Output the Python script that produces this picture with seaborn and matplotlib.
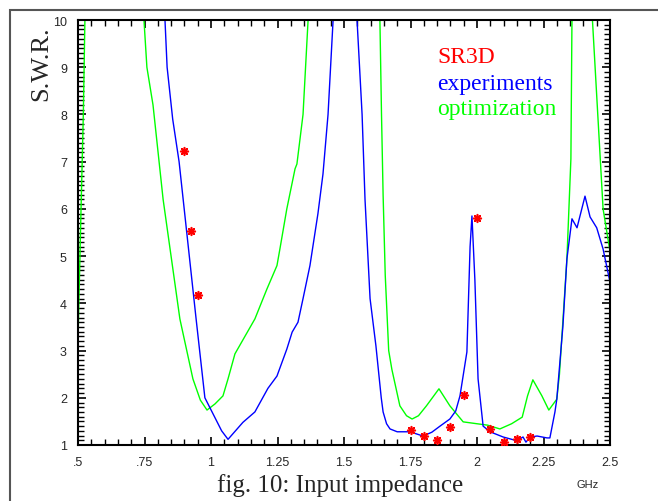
import pandas as pd
import seaborn as sns
import matplotlib.pyplot as plt
from matplotlib.ticker import MultipleLocator, FixedLocator

# 측정 / 최적화 / SR3D 데이터 (GHz, S.W.R.)
exp_f = [0.81, 0.827, 0.835, 0.856, 0.88, 0.944, 0.977, 1.004, 1.04, 1.064, 1.12, 1.165,
         1.214, 1.248, 1.285, 1.305, 1.327, 1.346, 1.372, 1.402, 1.421, 1.44, 1.459, 1.5,
         1.549, 1.568, 1.579, 1.598, 1.62, 1.64, 1.647, 1.66, 1.673, 1.70, 1.748, 1.797, 1.83,
         1.861, 1.898, 1.92, 1.936, 1.962, 1.974, 1.981, 1.992, 2.004, 2.023, 2.049, 2.098, 2.15,
         2.173, 2.184, 2.2, 2.226, 2.263, 2.274, 2.293, 2.30, 2.323, 2.338, 2.357, 2.376,
         2.406, 2.425, 2.45, 2.474, 2.5]
exp_s = [12.0, 10.0, 9.0, 7.9, 7.0, 3.67, 2.0, 1.7, 1.3, 1.12, 1.48, 1.7,
         2.2, 2.46, 3.03, 3.39, 3.6, 4.1, 4.8, 5.9, 6.74, 8.0, 10.0, 14.0,
         10.0, 8.0, 6.2, 4.1, 3.1, 2.0, 1.7, 1.45, 1.34, 1.28, 1.28, 1.19, 1.27,
         1.40, 1.55, 1.72, 2.04, 2.97, 5.2, 5.85, 4.5, 2.4, 1.40, 1.28, 1.17, 1.09,
         1.17, 1.06, 1.17, 1.19, 1.15, 1.15, 1.70, 1.97, 3.52, 4.94, 5.79, 5.6,
         6.27, 5.83, 5.6, 5.15, 4.45]

opt_f = [0.5, 0.511, 0.52, 0.526, 0.64, 0.748, 0.759, 0.782, 0.82, 0.883, 0.932, 0.96, 0.985,
         1.015, 1.045, 1.064, 1.09, 1.165, 1.21, 1.248, 1.259, 1.285, 1.316, 1.323, 1.346,
         1.365, 1.5, 1.635, 1.641, 1.647, 1.655, 1.668, 1.68, 1.71, 1.735, 1.756, 1.78, 1.81,
         1.857, 1.898, 1.948, 2.0, 2.04, 2.086, 2.13, 2.17, 2.19, 2.21, 2.244, 2.27, 2.3,
         2.31, 2.338, 2.353, 2.357, 2.395, 2.434, 2.459, 2.474, 2.5]
opt_s = [3.2, 5.9, 8.0, 10.0, 30.0, 10.0, 9.0, 8.2, 6.2, 3.67, 2.4, 1.95, 1.74,
         1.87, 2.04, 2.4, 2.93, 3.67, 4.3, 4.8, 5.15, 6.0, 6.85, 6.95, 8.0,
         10.0, 20.0, 10.0, 8.0, 6.3, 4.6, 3.0, 2.6, 1.83, 1.62, 1.55, 1.62, 1.83,
         2.19, 1.83, 1.49, 1.45, 1.42, 1.34, 1.45, 1.59, 2.04, 2.38, 2.04, 1.74, 1.97,
         2.5, 4.94, 7.06, 10.0, 15.0, 10.0, 7.5, 6.0, 5.1]

sr3d_f = [0.9, 0.925, 0.95, 1.75, 1.8, 1.85, 1.9, 1.95, 2.0, 2.05, 2.1, 2.15, 2.2]
sr3d_s = [7.22, 5.53, 4.17, 1.32, 1.19, 1.11, 1.38, 2.06, 5.81, 1.34, 1.06, 1.13, 1.17]

x_ticks = [0.5, 0.75, 1.0, 1.25, 1.5, 1.75, 2.0, 2.25, 2.5]
x_labels = [".5", ".75", "1", "1.25", "1.5", "1.75", "2", "2.25", "2.5"]
y_ticks = [1, 2, 3, 4, 5, 6, 7, 8, 9, 10]

df_exp = pd.DataFrame({"f": exp_f, "swr": exp_s})
df_opt = pd.DataFrame({"f": opt_f, "swr": opt_s})
df_sr = pd.DataFrame({"f": sr3d_f, "swr": sr3d_s})

sns.set_style("ticks")
plt.rcParams["font.family"] = ["Liberation Sans", "DejaVu Sans"]

fig = plt.figure(figsize=(6.58, 5.02), dpi=100)
ax = fig.add_axes([78 / 658, 1 - 446 / 502, 532 / 658, 425 / 502])

sns.lineplot(data=df_opt, x="f", y="swr", color="#00ff00", lw=1.0, sort=False, ax=ax)
sns.lineplot(data=df_exp, x="f", y="swr", color="#0000ff", lw=1.0, sort=False, ax=ax)
sns.scatterplot(data=df_sr, x="f", y="swr", marker=(8, 2, 0), s=30, color="red",
                edgecolor="red", linewidth=1.2, ax=ax, zorder=5)

ax.set_xlim(0.5, 2.5)
ax.set_ylim(1, 10)
ax.xaxis.set_major_locator(FixedLocator(x_ticks))
ax.set_xticklabels(x_labels)
ax.xaxis.set_minor_locator(MultipleLocator(0.05))
ax.yaxis.set_major_locator(FixedLocator(y_ticks))
ax.yaxis.set_minor_locator(MultipleLocator(0.1))
ax.tick_params(which="both", direction="in", top=True, right=True, color="black",
               labelsize=9, pad=8)
ax.tick_params(which="major", length=6, width=1.2)
ax.tick_params(which="minor", length=4, width=1.0)
for sp in ax.spines.values():
    sp.set_linewidth(1.5)
    sp.set_color("black")
ax.set_xlabel("")
ax.set_ylabel("")

fig.text(41 / 658, 1 - 64 / 502, "S.W.R.", rotation=90, ha="center", va="center",
         fontsize=19, family="Liberation Serif")
fig.text(340 / 658, 1 - 486 / 502, "fig. 10: Input impedance", ha="center", va="center",
         fontsize=18, family="Liberation Serif")
fig.text(588 / 658, 1 - 485 / 502, "GHz", ha="center", va="center", fontsize=8)

ax.text(437 / 658, 1 - 63 / 502, "SR3D", color="red", fontsize=17, family="Liberation Serif",
        transform=fig.transFigure, va="baseline")
ax.text(437 / 658, 1 - 90 / 502, "experiments", color="blue", fontsize=17,
        family="Liberation Serif", transform=fig.transFigure, va="baseline")
ax.text(437 / 658, 1 - 115 / 502, "optimization", color="#00ff00", fontsize=17,
        family="Liberation Serif", transform=fig.transFigure, va="baseline")

# 바깥 테두리
fig.add_artist(plt.Rectangle((10 / 658, -0.5), 2, 1.5 - 11 / 502, fill=False,
                             edgecolor="#555555", lw=1.5, transform=fig.transFigure))

fig.savefig("out.png", dpi=100)
